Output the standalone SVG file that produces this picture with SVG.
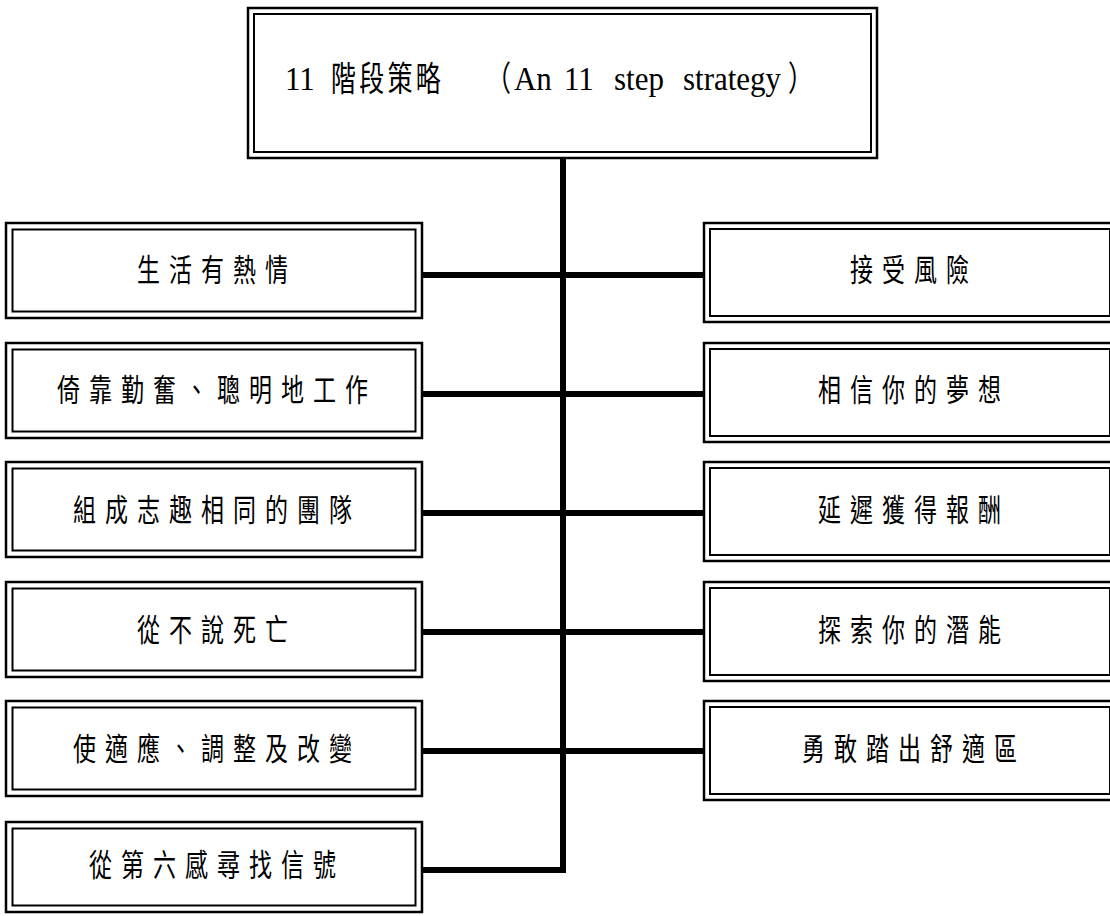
<svg xmlns="http://www.w3.org/2000/svg" width="1110" height="916" viewBox="0 0 1110 916">
<style>
.o{fill:#fff;stroke:#000;stroke-width:2.5}
.i{fill:none;stroke:#000;stroke-width:2}
.c{fill:none;stroke:#000;stroke-width:6;stroke-linejoin:miter}
.t{font-family:"Liberation Serif","Noto Sans CJK TC",serif;font-size:23px;letter-spacing:9px;text-anchor:middle;dominant-baseline:central;fill:#000}
.h{font-family:"Liberation Serif","Noto Sans CJK TC",serif;font-size:31px;fill:#000}
.k{font-size:25px;letter-spacing:3.3px}
</style>
<rect width="1110" height="916" fill="#fff"/>
<g id="connectors">
<path class="c" d="M563 158 V870 H420"/>
<path class="c" d="M420 275 H706 M420 394 H706 M420 513 H706 M420 632 H706 M420 751 H706"/>
</g>
<g id="title">
<rect class="o" x="248" y="8" width="629" height="150"/>
<rect class="i" x="254" y="14" width="617" height="138"/>
<text class="h" transform="translate(0,90) scale(1,1.12)"><tspan x="285">11</tspan><tspan x="514">An</tspan><tspan x="564">11</tspan><tspan x="614">step</tspan><tspan x="683">strategy</tspan></text>
<text class="h k" transform="translate(0,91) scale(1,1.38)"><tspan x="331">階段策略</tspan><tspan x="486">（</tspan><tspan x="788">）</tspan></text>
</g>
<g id="L1"><rect class="o" x="6" y="223" width="416" height="95"/><rect class="i" x="12.5" y="229.5" width="403" height="82"/><text class="t" transform="translate(217,271) scale(1,1.35)">生活有熱情</text></g>
<g id="L2"><rect class="o" x="6" y="343" width="416" height="95"/><rect class="i" x="12.5" y="349.5" width="403" height="82"/><text class="t" transform="translate(217,391) scale(1,1.35)">倚靠勤奮、聰明地工作</text></g>
<g id="L3"><rect class="o" x="6" y="462" width="416" height="95"/><rect class="i" x="12.5" y="468.5" width="403" height="82"/><text class="t" transform="translate(217,511) scale(1,1.35)">組成志趣相同的團隊</text></g>
<g id="L4"><rect class="o" x="6" y="582" width="416" height="95"/><rect class="i" x="12.5" y="588.5" width="403" height="82"/><text class="t" transform="translate(217,631) scale(1,1.35)">從不說死亡</text></g>
<g id="L5"><rect class="o" x="6" y="701" width="416" height="95"/><rect class="i" x="12.5" y="707.5" width="403" height="82"/><text class="t" transform="translate(217,750) scale(1,1.35)">使適應、調整及改變</text></g>
<g id="L6"><rect class="o" x="6" y="822" width="416" height="90"/><rect class="i" x="12.5" y="828.5" width="403" height="77"/><text class="t" transform="translate(217,866) scale(1,1.35)">從第六感尋找信號</text></g>
<g id="R1"><rect class="o" x="704" y="223" width="412" height="99"/><rect class="i" x="710" y="229" width="400" height="87"/><text class="t" transform="translate(914,271) scale(1,1.35)">接受風險</text></g>
<g id="R2"><rect class="o" x="704" y="343" width="412" height="99"/><rect class="i" x="710" y="349" width="400" height="87"/><text class="t" transform="translate(914,391) scale(1,1.35)">相信你的夢想</text></g>
<g id="R3"><rect class="o" x="704" y="462" width="412" height="99"/><rect class="i" x="710" y="468" width="400" height="87"/><text class="t" transform="translate(914,511) scale(1,1.35)">延遲獲得報酬</text></g>
<g id="R4"><rect class="o" x="704" y="582" width="412" height="99"/><rect class="i" x="710" y="588" width="400" height="87"/><text class="t" transform="translate(914,631) scale(1,1.35)">探索你的潛能</text></g>
<g id="R5"><rect class="o" x="704" y="701" width="412" height="99"/><rect class="i" x="710" y="707" width="400" height="87"/><text class="t" transform="translate(914,750) scale(1,1.35)">勇敢踏出舒適區</text></g>
</svg>
